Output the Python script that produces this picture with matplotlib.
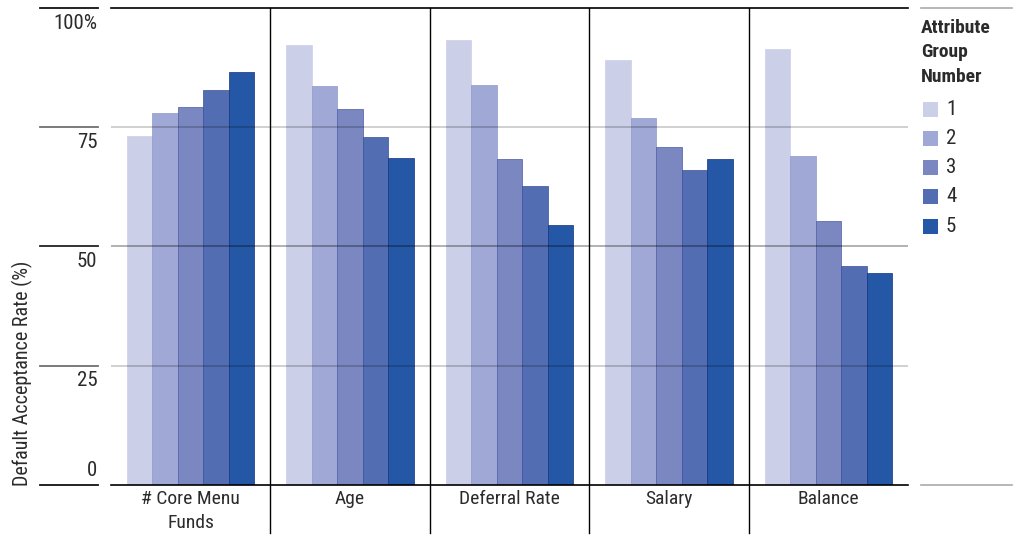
import matplotlib
matplotlib.use("Agg")
import matplotlib.pyplot as plt
import matplotlib.patches as mpatches
from matplotlib import font_manager
import numpy as np

# Data: default acceptance rate by attribute group
categories = ["# Core Menu\nFunds", "Age", "Deferral Rate", "Salary", "Balance"]
group_labels = ["1", "2", "3", "4", "5"]
group1 = [73.2, 92.2, 93.3, 89.1, 91.4]
group2 = [78.0, 83.6, 83.9, 76.9, 69.0]
group3 = [79.2, 78.8, 68.3, 70.9, 55.3]
group4 = [82.8, 73.0, 62.7, 66.0, 45.9]
group5 = [86.6, 68.6, 54.5, 68.3, 44.4]
yticks = [0, 25, 50, 75, 100]
ytick_labels = ["0", "25", "50", "75", "100%"]

colors = ["#cbcfe8", "#a0a8d5", "#7a87c0", "#526db2", "#2457a5"]
edges = ["#cbcfe8", "#8e97cc", "#4b5aa5", "#39509c", "#142f80"]

# pick a narrow face if one is installed
available = {f.name for f in font_manager.fontManager.ttflist}
family = "DejaVu Sans"
for cand in ["Roboto Condensed", "Liberation Sans Narrow", "Roboto"]:
    if cand in available:
        family = cand
        break
plt.rcParams["font.family"] = [family, "DejaVu Sans"]
WT = "normal"
TXT = "#2b2b2b"

fig = plt.figure(figsize=(10.14, 5.53), dpi=100)
ax = fig.add_axes([111 / 1014, 1 - 485 / 553, 797 / 1014, 477 / 553])

series = [group1, group2, group3, group4, group5]
x = np.arange(len(categories))
w = 0.16
for i, vals in enumerate(series):
    ax.bar(x + (i - 2) * w, vals, width=w, color=colors[i],
           edgecolor=edges[i], linewidth=0.5, zorder=2)

ax.set_xlim(-0.5, len(categories) - 0.5)
ax.set_ylim(0, 100)

for s in ["left", "right"]:
    ax.spines[s].set_visible(False)
ax.spines["top"].set_linewidth(1.2)
ax.spines["bottom"].set_linewidth(1.2)
ax.set_xticks([])
ax.set_yticks([])

# gridlines sit over the bars
for v, a in [(25, 0.2), (50, 0.33), (75, 0.2)]:
    ax.axhline(v, color="black", alpha=a, linewidth=1.3, zorder=3)

# separators between attribute panels, running below the axis
for b in np.arange(0.5, len(categories) - 0.5, 1):
    ax.plot([b, b], [1.0, -0.101], transform=ax.get_xaxis_transform(),
            color="black", linewidth=1.0, clip_on=False, zorder=4)

for xi, lab in zip(x, categories):
    ax.text(xi, -0.010, lab, transform=ax.get_xaxis_transform(),
            ha="center", va="top", fontsize=14, color=TXT,
            fontweight=WT, linespacing=1.45)

# tick rules and labels on the left
ytr = ax.get_yaxis_transform()
x0, x1 = (40 - 111) / 797, (98 - 111) / 797
rule_col = {0: "#111111", 25: "#707070", 50: "#222222", 75: "#707070", 100: "#111111"}
for v, lab in zip(yticks, ytick_labels):
    ax.plot([x0, x1], [v, v], transform=ytr, color=rule_col[v],
            linewidth=1.3, clip_on=False)
    if v == 0:
        ax.text(x1 - 0.001, v + 1.0, lab, transform=ytr, ha="right",
                va="bottom", fontsize=15, fontweight=WT, color=TXT)
    else:
        ax.text(x1 - 0.001, v - 1.2, lab, transform=ytr, ha="right",
                va="top", fontsize=15, fontweight=WT, color=TXT)

fig.text(22 / 1014, 1 - 486 / 553, "Default Acceptance Rate (%)",
         rotation=90, ha="center", va="bottom", fontsize=14.5,
         fontweight=WT, color=TXT)

# legend panel
fig.add_artist(plt.Line2D([921 / 1014, 1012 / 1014], [1 - 8 / 553] * 2,
                          color="#aaaaaa", linewidth=1.2))
fig.add_artist(plt.Line2D([921 / 1014, 1012 / 1014], [1 - 485 / 553] * 2,
                          color="#aaaaaa", linewidth=1.2))
fig.text(921 / 1014, 1 - 19 / 553, "Attribute\nGroup\nNumber", ha="left",
         va="top", fontsize=14, fontweight="bold", color=TXT,
         linespacing=1.45)
for i, lab in enumerate(group_labels):
    yc = 109 + i * 29.3
    fig.add_artist(mpatches.Rectangle((923 / 1014, 1 - (yc + 7.5) / 553),
                                      15 / 1014, 15 / 553,
                                      transform=fig.transFigure,
                                      color=colors[i], linewidth=0))
    fig.text(946 / 1014, 1 - yc / 553, lab, ha="left", va="center",
             fontsize=15, fontweight=WT, color=TXT)

fig.savefig("out.png", dpi=100)
